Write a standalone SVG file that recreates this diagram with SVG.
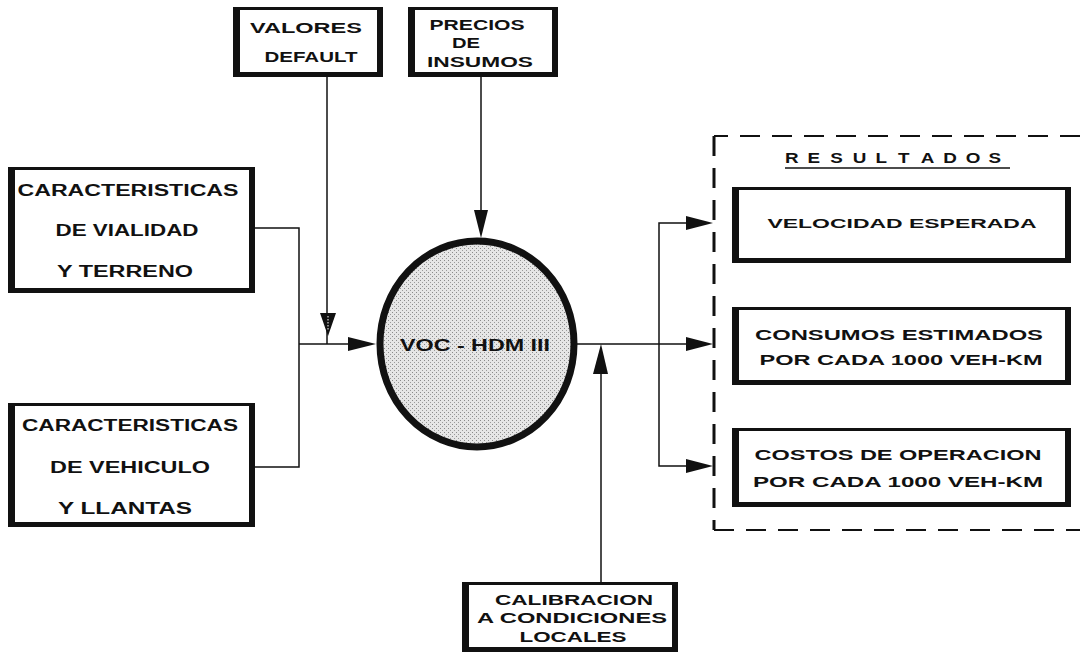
<svg xmlns="http://www.w3.org/2000/svg" width="1090" height="652" viewBox="0 0 1090 652">
<style>
.t{font-family:"Liberation Sans",Arial,sans-serif;font-weight:bold;fill:#111;text-anchor:middle}
.ln{stroke:#111;stroke-width:1.5;fill:none}
.dash{stroke:#111;fill:none;stroke-dasharray:20 12}
.outer{fill:#111}
.inner{fill:#fff}
.ah{fill:#111}
</style>
<defs>
<pattern id="stip" width="4" height="4" patternUnits="userSpaceOnUse">
<rect width="4" height="4" fill="#e6e6e6"/>
<rect x="0" y="0" width="1" height="1" fill="#8a8a8a"/>
<rect x="2" y="2" width="1" height="1" fill="#9a9a9a"/>
</pattern>
</defs>
<rect width="1090" height="652" fill="#fff"/>

<g id="connectors">
<line class="ln" x1="327" y1="77" x2="327" y2="344"/>
<polygon class="ah" points="320,313 336,313 328,336"/>
<line x1="328" y1="316" x2="328" y2="330" stroke="#fff" stroke-width="1" stroke-dasharray="1.5 1.5"/>
<line class="ln" x1="481" y1="77" x2="481" y2="214"/>
<polygon class="ah" points="474,210 488,210 481,238"/>
<polyline class="ln" points="255,228 299,228 299,467 255,467"/>
<line class="ln" x1="299" y1="344" x2="350" y2="344"/>
<polygon class="ah" points="348,337 348,351 376,344"/>
<line class="ln" x1="577" y1="344" x2="690" y2="344"/>
<polyline class="ln" points="690,223 659,223 659,466 690,466"/>
<polygon class="ah" points="686,216 686,230 713,223"/>
<polygon class="ah" points="686,337 686,351 713,344"/>
<polygon class="ah" points="686,459 686,473 713,466"/>
<line class="ln" x1="601" y1="582" x2="601" y2="370"/>
<polygon class="ah" points="593,374 608,374 601,344"/>
<polyline class="dash" stroke-width="2" points="1080,136 714,136"/>
<line class="dash" stroke-width="3" x1="714" y1="136" x2="714" y2="530"/>
<polyline class="dash" stroke-width="2" points="714,530 1080,530"/>
</g>

<g id="valores">
<rect class="outer" x="233" y="7" width="150" height="70"/>
<rect class="inner" x="240" y="10" width="137" height="62"/>
<text class="t" x="306" y="33" font-size="14" textLength="112" lengthAdjust="spacingAndGlyphs">VALORES</text>
<text class="t" x="311" y="62" font-size="14" textLength="93" lengthAdjust="spacingAndGlyphs">DEFAULT</text>
</g>

<g id="precios">
<rect class="outer" x="408" y="7" width="150" height="70"/>
<rect class="inner" x="415" y="10" width="137" height="62"/>
<text class="t" x="477" y="30" font-size="14" textLength="95" lengthAdjust="spacingAndGlyphs">PRECIOS</text>
<text class="t" x="466" y="48" font-size="14" textLength="28" lengthAdjust="spacingAndGlyphs">DE</text>
<text class="t" x="480" y="67" font-size="14" textLength="106" lengthAdjust="spacingAndGlyphs">INSUMOS</text>
</g>

<g id="vialidad">
<rect class="outer" x="8" y="167" width="247" height="126"/>
<rect class="inner" x="15" y="170" width="234" height="118"/>
<text class="t" x="128" y="196" font-size="16" textLength="221" lengthAdjust="spacingAndGlyphs">CARACTERISTICAS</text>
<text class="t" x="127" y="236" font-size="16" textLength="143" lengthAdjust="spacingAndGlyphs">DE VIALIDAD</text>
<text class="t" x="125" y="277" font-size="16" textLength="136" lengthAdjust="spacingAndGlyphs">Y TERRENO</text>
</g>

<g id="vehiculo">
<rect class="outer" x="8" y="403" width="247" height="124"/>
<rect class="inner" x="15" y="406" width="234" height="116"/>
<text class="t" x="130" y="431" font-size="16" textLength="216" lengthAdjust="spacingAndGlyphs">CARACTERISTICAS</text>
<text class="t" x="130" y="473" font-size="16" textLength="160" lengthAdjust="spacingAndGlyphs">DE VEHICULO</text>
<text class="t" x="125" y="514" font-size="16" textLength="134" lengthAdjust="spacingAndGlyphs">Y LLANTAS</text>
</g>

<g id="voc">
<ellipse cx="477" cy="344" rx="97" ry="103" fill="url(#stip)" stroke="#111" stroke-width="7"/>
<text class="t" x="475" y="351" font-size="16" textLength="150" lengthAdjust="spacingAndGlyphs">VOC - HDM III</text>
</g>

<g id="resultados">
<text class="t" transform="scale(1.3,1)" y="163" font-size="14.5" text-anchor="start" style="text-anchor:start" x="603.8 621.2 638.6 656.0 673.4 690.8 708.2 725.5 742.9 760.3">RESULTADOS</text>
<line x1="785" y1="168" x2="1010" y2="168" stroke="#111" stroke-width="1.5"/>
</g>

<g id="velocidad">
<rect class="outer" x="732" y="187" width="339" height="76"/>
<rect class="inner" x="739" y="190" width="326" height="68"/>
<text class="t" x="902" y="228" font-size="13.5" textLength="269" lengthAdjust="spacingAndGlyphs">VELOCIDAD ESPERADA</text>
</g>

<g id="consumos">
<rect class="outer" x="732" y="307" width="339" height="78"/>
<rect class="inner" x="739" y="310" width="326" height="70"/>
<text class="t" x="899" y="340" font-size="14" textLength="288" lengthAdjust="spacingAndGlyphs">CONSUMOS ESTIMADOS</text>
<text class="t" x="901" y="365" font-size="14" textLength="283" lengthAdjust="spacingAndGlyphs">POR CADA 1000 VEH-KM</text>
</g>

<g id="costos">
<rect class="outer" x="732" y="428" width="339" height="79"/>
<rect class="inner" x="739" y="431" width="326" height="71"/>
<text class="t" x="898" y="460" font-size="14" textLength="287" lengthAdjust="spacingAndGlyphs">COSTOS DE OPERACION</text>
<text class="t" x="898" y="487" font-size="14" textLength="290" lengthAdjust="spacingAndGlyphs">POR CADA 1000 VEH-KM</text>
</g>

<g id="calibracion">
<rect class="outer" x="462" y="582" width="216" height="70"/>
<rect class="inner" x="469" y="585" width="203" height="62"/>
<text class="t" x="574" y="605" font-size="15" textLength="158" lengthAdjust="spacingAndGlyphs">CALIBRACION</text>
<text class="t" x="572" y="623" font-size="15" textLength="190" lengthAdjust="spacingAndGlyphs">A CONDICIONES</text>
<text class="t" x="573" y="642" font-size="15" textLength="107" lengthAdjust="spacingAndGlyphs">LOCALES</text>
</g>
</svg>
